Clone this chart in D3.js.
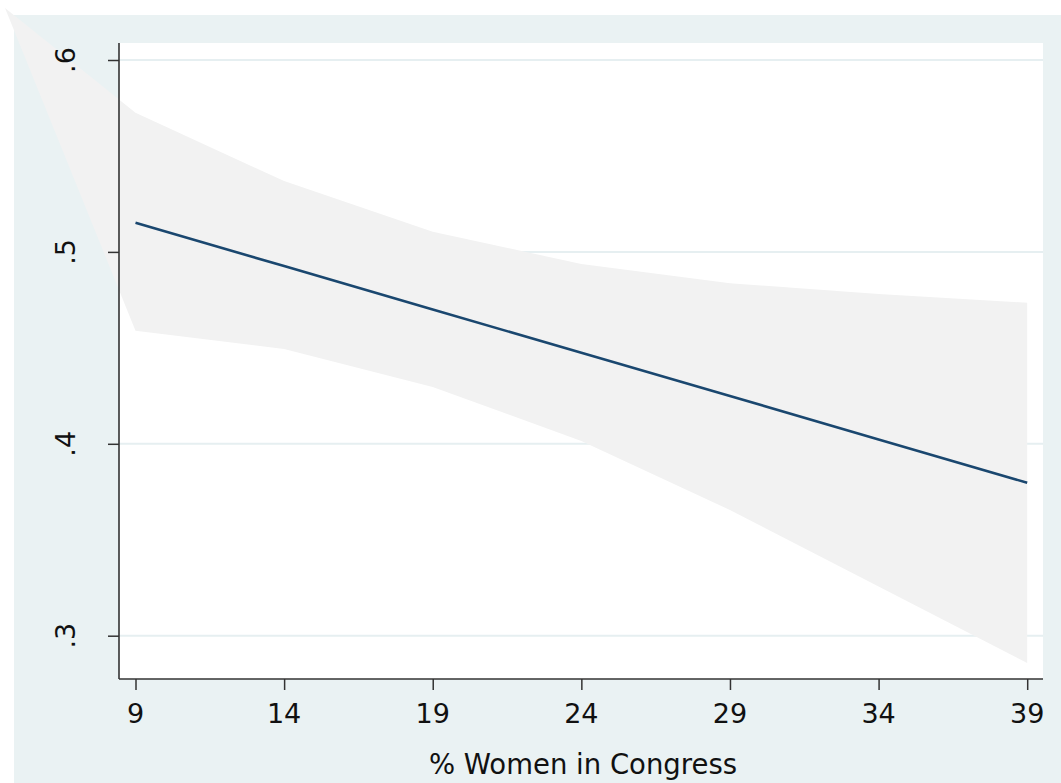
<!DOCTYPE html>
<html><head><meta charset="utf-8">
<script src="https://cdn.jsdelivr.net/npm/d3@7"></script>
<style>html,body{margin:0;padding:0;background:#fff;}svg{display:block;}</style>
</head><body>
<svg id="chart" width="1061" height="783"></svg>
<script>
// Data
const xValues = [9, 14, 19, 24, 29, 34, 39];
const fitValues = [0.5152, 0.4926, 0.4700, 0.4474, 0.4249, 0.4023, 0.3797];
const upperValues = [0.5725, 0.5369, 0.5105, 0.4937, 0.4837, 0.4781, 0.4735];
const lowerValues = [0.4589, 0.4494, 0.4296, 0.4015, 0.3655, 0.3257, 0.2858];
// stray vertex of the confidence band visible in the reference (top-left corner)
const bandAnchor = {x: 4.61, y: 0.6271};
const xTicks = [9, 14, 19, 24, 29, 34, 39];
const yTicks = [0.3, 0.4, 0.5, 0.6];
const yTickLabels = [".3", ".4", ".5", ".6"];
const xTitle = "% Women in Congress";

const svg = d3.select("#chart");
const W = 1061, H = 783;
const plot = {left: 119, right: 1043, top: 43, bottom: 679};

const x = d3.scaleLinear().domain([9, 39]).range([135.5, 1027.2]);
const y = d3.scaleLinear().domain([0.3, 0.6]).range([635.7, 60]);

// outer background
svg.append("rect").attr("x", 14).attr("y", 15).attr("width", W - 14).attr("height", H - 15).attr("fill", "#eaf2f3");
// plot region
svg.append("rect").attr("x", plot.left).attr("y", plot.top)
  .attr("width", plot.right - plot.left).attr("height", plot.bottom - plot.top).attr("fill", "#ffffff");

// gridlines
svg.append("g").selectAll("line").data(yTicks).join("line")
  .attr("x1", plot.left).attr("x2", plot.right)
  .attr("y1", d => y(d)).attr("y2", d => y(d))
  .attr("stroke", "#e6eff1").attr("stroke-width", 2);

// CI band
const bandData = [{x: bandAnchor.x, lo: bandAnchor.y, hi: bandAnchor.y}]
  .concat(xValues.map((v, i) => ({x: v, lo: lowerValues[i], hi: upperValues[i]})));
const area = d3.area().x(d => x(d.x)).y0(d => y(d.lo)).y1(d => y(d.hi));
svg.append("path").datum(bandData).attr("d", area).attr("fill", "#f2f2f2").attr("stroke", "none");

// fitted line
const line = d3.line().x((d, i) => x(xValues[i])).y(d => y(d));
svg.append("path").datum(fitValues).attr("d", line)
  .attr("fill", "none").attr("stroke", "#1a476f").attr("stroke-width", 2.6);

// axes
const yAxis = d3.axisLeft(y).tickValues(yTicks).tickSize(11).tickFormat("");
const gy = svg.append("g").attr("transform", `translate(${plot.left},0)`).call(yAxis);
gy.select(".domain").remove();
gy.selectAll(".tick line").attr("stroke", "#333").attr("stroke-width", 1.5);
svg.append("line").attr("x1", plot.left).attr("x2", plot.left).attr("y1", plot.top).attr("y2", plot.bottom)
  .attr("stroke", "#333").attr("stroke-width", 1.6);

const xAxis = d3.axisBottom(x).tickValues(xTicks).tickSize(11).tickFormat("");
const gx = svg.append("g").attr("transform", `translate(0,${plot.bottom})`).call(xAxis);
gx.select(".domain").remove();
gx.selectAll(".tick line").attr("stroke", "#333").attr("stroke-width", 1.5);
svg.append("line").attr("x1", plot.left).attr("x2", plot.right).attr("y1", plot.bottom).attr("y2", plot.bottom)
  .attr("stroke", "#333").attr("stroke-width", 1.6);

const font = "DejaVu Sans, Verdana, sans-serif";
// x tick labels
svg.append("g").selectAll("text").data(xTicks).join("text")
  .attr("x", d => x(d)).attr("y", 723)
  .attr("text-anchor", "middle").attr("font-family", font).attr("font-size", 27)
  .attr("fill", "#111").text(d => d);
// y tick labels (rotated)
svg.append("g").selectAll("text").data(yTicks).join("text")
  .attr("transform", d => `translate(75,${y(d)}) rotate(-90)`)
  .attr("text-anchor", "middle").attr("font-family", font).attr("font-size", 27)
  .attr("fill", "#111").text((d, i) => yTickLabels[i]);
// x title
svg.append("text").attr("x", (plot.left + plot.right) / 2 + 2).attr("y", 774)
  .attr("text-anchor", "middle").attr("font-family", font).attr("font-size", 27.5)
  .attr("fill", "#111").text(xTitle);
</script>
</body></html>
